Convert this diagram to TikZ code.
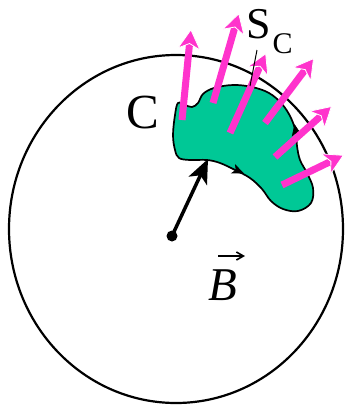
\documentclass[tikz,border=0pt]{standalone}
\usepackage{fontspec}
\setmainfont{Liberation Serif}
\usetikzlibrary{arrows.meta,shapes.geometric}
\definecolor{blobgreen}{RGB}{0,200,150}
\definecolor{vecpink}{RGB}{255,51,204}
\tikzset{
  pinkvec/.style={draw=vecpink, line width=7pt,
    -{Stealth[length=21pt,width=24pt,inset=6pt,fill=vecpink,color=white,line width=0.8pt]}},
  fieldvec/.style={draw=black, line width=3.5pt,
    -{Stealth[length=24pt,width=20pt,inset=6pt]}},
  dirtip/.style={draw=black, line width=0.8pt, -{Stealth[length=12pt,width=10pt,inset=3pt]}},
  lbl/.style={inner sep=0pt, anchor=base west}
}
\begin{document}
\begin{tikzpicture}[x=1pt,y=-1pt]
\useasboundingbox (0,0) rectangle (345,407);
% big circle
\node[draw, line width=2.2pt, ellipse, minimum width=334pt, minimum height=348pt, inner sep=0pt] (circ) at (176,229) {};
% green region C
\draw[line width=1.7pt, fill=blobgreen] plot[smooth cycle, tension=0.6] coordinates {
  (178,103) (175,115) (173,135) (175,150) (179,158) (190,160) (207,160)
  (220,163) (235,170) (250,178) (262,189) (271,201) (283,209) (298,211)
  (311,203) (313,188) (307,173) (300,160) (297,146) (296,133) (291,118)
  (282,104) (269,93) (252,87) (233,85) (214,88) (203,94) (198,103)
  (192,107) (185,105)};
% orientation marks on C
\coordinate (d1a) at (228,166.5);
\coordinate (d1b) at (244,173.5);
\draw[dirtip] (d1a) -- (d1b);
\coordinate (d2a) at (297.5,140);
\coordinate (d2b) at (294.5,124);
\draw[dirtip] (d2a) -- (d2b);
% field point and vector
\coordinate (orig) at (172,236);
\coordinate (ftip) at (208,159);
\fill (orig) circle (5.5pt);
\draw[fieldvec] (orig) -- (ftip);
% pink normal vectors
\coordinate (p1s) at (182,120); \coordinate (p1e) at (191,29);
\coordinate (p2s) at (213,103); \coordinate (p2e) at (239,13);
\coordinate (p3s) at (230,133); \coordinate (p3e) at (266,53);
\coordinate (p4s) at (265,123); \coordinate (p4e) at (314,58);
\coordinate (p5s) at (275,157); \coordinate (p5e) at (332,106);
\coordinate (p6s) at (282,185); \coordinate (p6e) at (344,155);
\draw[pinkvec] (p1s) -- (p1e);
\draw[pinkvec] (p2s) -- (p2e);
\draw[pinkvec] (p3s) -- (p3e);
\draw[pinkvec] (p4s) -- (p4e);
\draw[pinkvec] (p5s) -- (p5e);
\draw[pinkvec] (p6s) -- (p6e);
% labels
\node[lbl] (labC) at (126,128) {\fontsize{49}{52}\selectfont C};
\node[lbl] (labS) at (246,38) {\fontsize{44}{50}\selectfont S\hspace{2pt}\raisebox{-15pt}{\fontsize{30}{34}\selectfont C}};
\coordinate (sline1) at (257,50);
\coordinate (sline2) at (250,86);
\draw[line width=1pt] (sline1) -- (sline2);
\node[lbl] (labB) at (208,300) {\fontsize{47}{50}\selectfont\itshape B};
\coordinate (va) at (218,256);
\coordinate (vb) at (245,256);
\draw[line width=1.6pt, -{Straight Barb[length=7pt,width=8pt]}] (va) -- (vb);
\end{tikzpicture}
\end{document}
